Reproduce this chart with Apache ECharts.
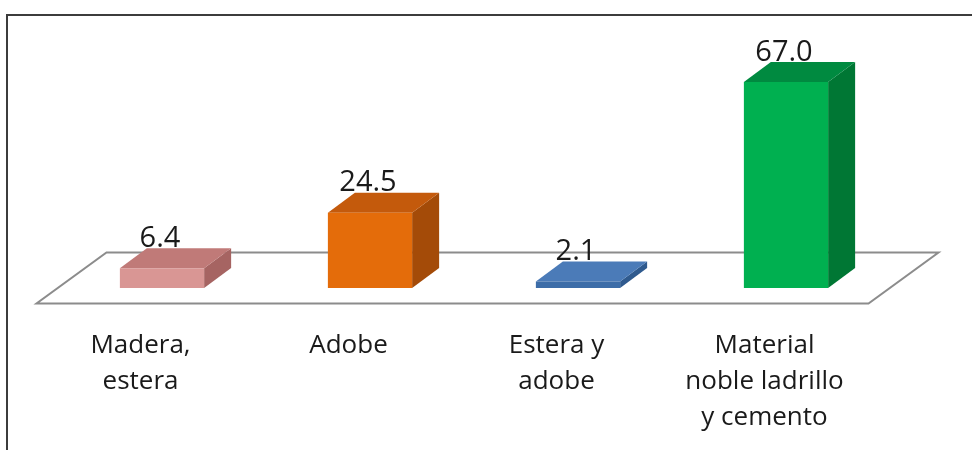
<!DOCTYPE html>
<html>
<head>
<meta charset="utf-8">
<script src="https://cdn.jsdelivr.net/npm/echarts@6/dist/echarts.min.js"></script>
<style>
  html, body { margin: 0; padding: 0; background: #ffffff; }
  #chart { width: 972px; height: 450px; }
</style>
</head>
<body>
<div id="chart"></div>
<script>
// Housing wall material, percentage of households
const categories = ['Madera,\nestera', 'Adobe', 'Estera y\nadobe', 'Material\nnoble ladrillo\ny cemento'];
const values = [6.4, 24.5, 2.1, 67.0];

// face shades per box: front, top, right side
const frontColors = ['#D99694', '#E46C0A', '#3D6DA8', '#00B050'];
const topColors = ['#C07A78', '#C45A0C', '#4B7BB8', '#008A40'];
const sideColors = ['#A66462', '#A44B08', '#2F5A8E', '#007734'];

// half-depth offsets of the boxes and of the floor plate (px)
const BOX_DX = 13.5, BOX_DY = 10;
const FLOOR_DX = 35, FLOOR_DY = 25.5;

const FONT = '"Open Sans", "Noto Sans", sans-serif';

const chart = echarts.init(document.getElementById('chart'), null, { renderer: 'canvas' });

function renderFloor(params, api) {
  const cs = params.coordSys;
  const y0 = api.coord([0, 0])[1];
  const xl = cs.x, xr = cs.x + cs.width;
  return {
    type: 'polygon',
    shape: {
      points: [
        [xl - FLOOR_DX, y0 + FLOOR_DY],
        [xr - FLOOR_DX, y0 + FLOOR_DY],
        [xr + FLOOR_DX, y0 - FLOOR_DY],
        [xl + FLOOR_DX, y0 - FLOOR_DY]
      ]
    },
    style: { fill: '#ffffff', stroke: '#8C8C8C', lineWidth: 2 }
  };
}

function renderBox(params, api) {
  const i = params.dataIndex;
  const v = api.value(1);
  const base = api.coord([api.value(0), 0]);
  const top = api.coord([api.value(0), v]);
  const band = api.size([1, 0])[0];
  const w = band * 0.405;
  const fx0 = base[0] - BOX_DX - w / 2;
  const fx1 = fx0 + w;
  const fy0 = top[1] + BOX_DY;
  const fy1 = base[1] + BOX_DY;
  const ddx = 2 * BOX_DX, ddy = 2 * BOX_DY;
  return {
    type: 'group',
    children: [
      {
        type: 'polygon',
        shape: { points: [[fx1, fy0], [fx1 + ddx, fy0 - ddy], [fx1 + ddx, fy1 - ddy], [fx1, fy1]] },
        style: { fill: sideColors[i] }
      },
      {
        type: 'polygon',
        shape: { points: [[fx0, fy0], [fx1, fy0], [fx1 + ddx, fy0 - ddy], [fx0 + ddx, fy0 - ddy]] },
        style: { fill: topColors[i] }
      },
      {
        type: 'rect',
        shape: { x: fx0, y: fy0, width: w, height: fy1 - fy0 },
        style: { fill: frontColors[i] }
      },
      {
        type: 'text',
        x: fx0 + w / 2 - 2,
        y: fy0 - ddy + 5,
        style: {
          text: v.toFixed(1),
          fill: '#1a1a1a',
          font: '29px ' + FONT,
          align: 'center',
          verticalAlign: 'bottom'
        }
      }
    ]
  };
}

const option = {
  animation: false,
  backgroundColor: '#ffffff',
  grid: [
    { left: 71.5, right: 68.5, top: 32, bottom: 172 },
    { left: 36.5, right: 103.5, top: 302, bottom: 147 }
  ],
  xAxis: [
    { type: 'category', gridIndex: 0, data: categories, show: false },
    {
      type: 'category', gridIndex: 1, data: categories,
      axisLine: { show: false }, axisTick: { show: false },
      axisLabel: {
        interval: 0, margin: 25,
        fontFamily: FONT, fontSize: 26, lineHeight: 36, color: '#1a1a1a'
      }
    }
  ],
  yAxis: [
    { type: 'value', gridIndex: 0, min: 0, max: 80, show: false },
    { type: 'value', gridIndex: 1, show: false }
  ],
  graphic: [
    { type: 'line', shape: { x1: 7, y1: 15, x2: 972, y2: 15 }, style: { stroke: '#3c3c3c', lineWidth: 2 } },
    { type: 'line', shape: { x1: 7, y1: 14, x2: 7, y2: 450 }, style: { stroke: '#3c3c3c', lineWidth: 2 } }
  ],
  series: [
    {
      type: 'custom', xAxisIndex: 0, yAxisIndex: 0, z: 1,
      renderItem: renderFloor,
      data: [[0, 0]],
      silent: true
    },
    {
      type: 'custom', xAxisIndex: 0, yAxisIndex: 0, z: 2,
      renderItem: renderBox,
      data: values.map((v, i) => [i, v])
    }
  ]
};

chart.setOption(option);
</script>
</body>
</html>
